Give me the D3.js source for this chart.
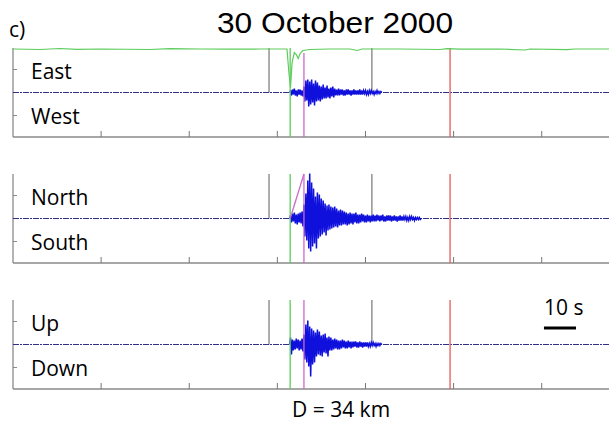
<!DOCTYPE html>
<html>
<head>
<meta charset="utf-8">
<script src="https://cdn.jsdelivr.net/npm/d3@7"></script>
<style>
  body { margin: 0; background: #fff; }
  text { font-family: "Open Sans", sans-serif; }
</style>
</head>
<body>
<script>
var width = 609,
    height = 430;

// labels
var topLabels = ["East", "North", "Up"];
var bottomLabels = ["West", "South", "Down"];
var title = "30 October 2000";
var distLabel = "D = 34 km";

// time axis (seconds)
var tickTimes = [27.5, 55, 82.5, 110, 137.5, 165];
var grayPicks = [79.9, 112.0];
var greenPick = 86.5;
var magentaPick = 90.8;
var redPick = 136.4;

// traces: samples every 0.3 s starting at t0
var t0 = 86.6, dt = 0.3;
var ewAmp = [2,-3,3,-2,4,-3,2,-4,3,-2,3,-3,2,-4,
  6,-9,12,-8,13,-14,11,-12,13,-10,9,-13,12,-9,10,-8,7,-9,
  6,-7,8,-6,5,-6,7,-5,4,-6,5,-4,6,-5,4,-3,
  3,-3,4,-3,3,-2,3,-3,2,-3,3,-2,3,-2,2,-3,2,-2,3,-2,2,-2,2,-2,3,-2,2,-2,2,-1,2,-2,1,-2,2,-1,2,-1,1,-2,1,-1,2,-1,1,-1,1];
var nsAmp = [3,-4,5,-3,6,-5,4,-6,5,-4,6,-5,7,
  -8,14,-18,25,-22,38,-30,45,-33,36,-28,30,-25,22,-30,26,-20,24,-18,
  20,-16,18,-14,15,-17,13,-12,14,-11,12,-10,11,-9,12,-8,10,-9,8,-7,9,
  -7,8,-6,7,-6,6,-7,5,-6,6,-5,5,-6,5,-4,6,-5,4,-5,4,-4,5,-3,4,-4,3,-4,4,-3,3,-4,
  3,-3,4,-3,3,-3,4,-2,3,-3,3,-2,4,-3,2,-3,3,-2,3,-2,3,-3,2,-2,3,-2,2,-3,2,-2,3,-2,2,-2,2,-1,2,-2,1,-2,2,-1,2,-1,1,-2,1,-1,1,-1,1,-1];
var udAmp = [7,-10,5,-6,4,-5,6,-4,5,-6,4,-5,6,-7,
  10,-15,20,-18,24,-22,18,-32,16,-20,14,-18,12,
  -12,15,-10,13,-11,9,-12,10,-8,11,-9,7,-12,8,-6,7,
  -6,5,-5,6,-4,5,-5,4,-5,4,-4,5,-3,4,-4,3,-4,4,-3,3,-4,3,-3,3,-2,3,-3,2,-3,3,-2,2,-3,2,-2,2,-2,2,-2,1,-2,2,-1,2,-1,1,-2,1,-1,1,-1,1];
var traces = [ewAmp, nsAmp, udAmp];

// green channel on top of the E-W panel
var greenT = [0, 8.4, 14.7, 20.0, 27.2, 42.8, 49.0, 58.4, 67.7, 77.1, 85.5, 86.1, 86.6, 87.1, 87.8, 88.4, 89.0, 89.6, 90.5, 92.7, 98.9, 105.2, 107.4, 108.9, 120.8, 133.3, 135.5, 139.5, 152.0, 159.8, 161.4, 172.9, 175.4, 186];
var greenV = [43.5, 43, 44, 43.2, 43.5, 43, 43.8, 43.5, 43.3, 43.5, 43.5, 20, 5, 30, 40, 38, 34, 39, 42, 43, 43.5, 43.5, 42, 43.5, 43.5, 43, 43.8, 43.3, 43.5, 42.5, 43.5, 42.8, 43.5, 43.5];

var panelTops = [48, 174, 300];
var panelH = 89;

var svg = d3.select("body").append("svg")
    .attr("width", width)
    .attr("height", height);

var x = d3.scaleLinear().domain([0, 186]).range([13, 609]);

svg.append("text")
    .attr("x", 335).attr("y", 33)
    .attr("text-anchor", "middle")
    .attr("textLength", 236)
    .attr("lengthAdjust", "spacingAndGlyphs")
    .style("font-family", "'Liberation Sans', Arial, sans-serif")
    .style("font-size", "29px")
    .text(title);

svg.append("text")
    .attr("x", 9).attr("y", 37)
    .style("font-size", "21px")
    .text("c)");

panelTops.forEach(function (top, i) {
    var y = d3.scaleLinear().domain([-44.5, 44.5]).range([top + panelH, top]);
    var g = svg.append("g");

    // axes
    g.append("line")
        .attr("x1", x(0)).attr("x2", x(0))
        .attr("y1", top).attr("y2", top + panelH)
        .attr("stroke", "#8a8a8a").attr("stroke-width", 1.3);
    g.append("line")
        .attr("x1", x(0)).attr("x2", width)
        .attr("y1", top + panelH).attr("y2", top + panelH)
        .attr("stroke", "#8a8a8a").attr("stroke-width", 1.3);
    g.selectAll(".ytick").data([23, -23]).enter().append("line")
        .attr("x1", x(0)).attr("x2", x(0) + 4)
        .attr("y1", d => y(d)).attr("y2", d => y(d))
        .attr("stroke", "#8a8a8a");
    g.selectAll(".xtick").data(tickTimes).enter().append("line")
        .attr("x1", d => x(d)).attr("x2", d => x(d))
        .attr("y1", top + panelH).attr("y2", top + panelH - 6)
        .attr("stroke", "#777");

    // gray picks
    g.selectAll(".gray").data(grayPicks).enter().append("line")
        .attr("x1", d => x(d)).attr("x2", d => x(d))
        .attr("y1", y(44.5)).attr("y2", y(0))
        .attr("stroke", "#777").attr("stroke-width", 1.2);

    // quiet baseline (noise)
    g.append("line")
        .attr("x1", x(0)).attr("x2", width)
        .attr("y1", y(0)).attr("y2", y(0))
        .attr("stroke", "#30308a").attr("stroke-width", 1.2)
        .attr("stroke-dasharray", "6,1,2,1");

    // trace
    var pts = [[t0 - 0.2, 0]].concat(traces[i].map((v, k) => [t0 + k * dt, v]));
    pts.push([t0 + traces[i].length * dt, 0]);
    g.append("path")
        .attr("d", d3.line().x(d => x(d[0])).y(d => y(d[1]))(pts))
        .attr("fill", "none")
        .attr("stroke", "#1010dc").attr("stroke-width", 1.5);

    // picks
    g.append("line")
        .attr("x1", x(greenPick)).attr("x2", x(greenPick))
        .attr("y1", top).attr("y2", top + panelH)
        .attr("stroke", "#5ccc5c").attr("stroke-width", 1.3);
    g.append("line")
        .attr("x1", x(magentaPick)).attr("x2", x(magentaPick))
        .attr("y1", i == 0 ? top + 5 : top).attr("y2", top + panelH)
        .attr("stroke", "#cc6acc").attr("stroke-width", 1.3);
    g.append("line")
        .attr("x1", x(redPick)).attr("x2", x(redPick))
        .attr("y1", top).attr("y2", top + panelH)
        .attr("stroke", "#e05a5a").attr("stroke-width", 1.3);

    if (i == 1) {
        g.append("line")
            .attr("x1", x(greenPick)).attr("y1", y(0))
            .attr("x2", x(magentaPick)).attr("y2", y(44.5))
            .attr("stroke", "#cc6acc").attr("stroke-width", 1.3);
    }
    if (i == 0) {
        g.append("path")
            .attr("d", d3.line().x((d, k) => x(greenT[k])).y(d => y(d))(greenV))
            .attr("fill", "none")
            .attr("stroke", "#5ccc5c").attr("stroke-width", 1.2);
    }

    // labels
    g.append("text")
        .attr("x", 31).attr("y", y(0) - 14)
        .style("font-size", "21px")
        .text(topLabels[i]);
    g.append("text")
        .attr("x", 31).attr("y", y(0) + 31)
        .style("font-size", "21px")
        .text(bottomLabels[i]);
});

// scale bar
svg.append("line")
    .attr("x1", x(165.7)).attr("x2", x(175.7))
    .attr("y1", 328).attr("y2", 328)
    .attr("stroke", "#000").attr("stroke-width", 3);
svg.append("text")
    .attr("x", x(165.7)).attr("y", 315)
    .style("font-size", "21px")
    .text("10 s");

svg.append("text")
    .attr("x", 292).attr("y", 417)
    .style("font-size", "21px")
    .text(distLabel);
</script>
</body>
</html>
